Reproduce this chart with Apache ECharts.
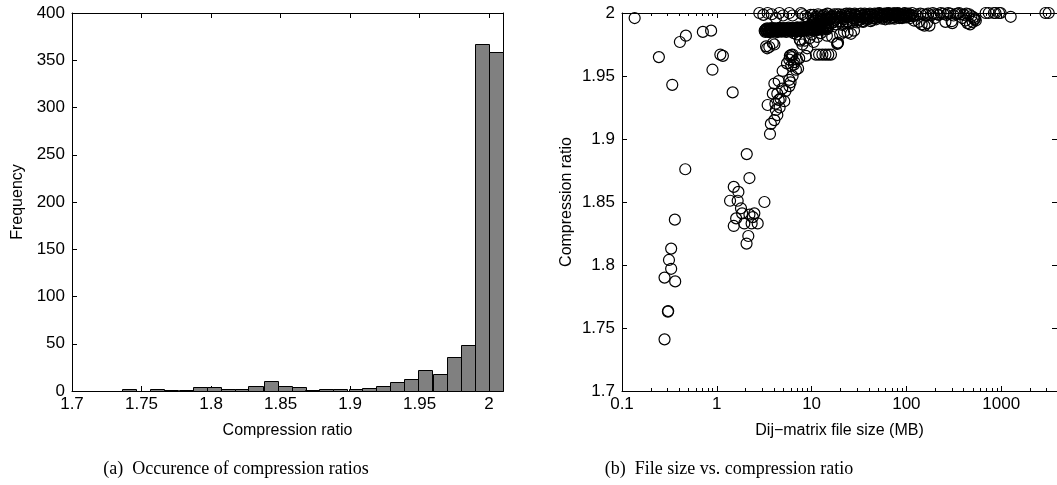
<!DOCTYPE html>
<html>
<head>
<meta charset="utf-8">
<script src="https://cdn.jsdelivr.net/npm/echarts@6/dist/echarts.min.js"></script>
<style>
  html, body { margin: 0; padding: 0; background: #fff; }
  #chart { width: 1057px; height: 485px; }
</style>
</head>
<body>
<div id="chart"></div>
<script>
// ---- (a) histogram of compression ratios ----
const binCenters = [1.741, 1.751, 1.761, 1.771, 1.782, 1.792, 1.802, 1.812, 1.822, 1.832,
                    1.843, 1.853, 1.863, 1.873, 1.883, 1.893, 1.904, 1.914, 1.924, 1.934,
                    1.944, 1.954, 1.965, 1.975, 1.985, 1.995, 2.005];
const binWidth = 0.01015;
const binCounts = [2, 0, 2, 1, 1, 4, 4, 2, 2, 5,
                   11, 5, 4, 1, 2, 2, 2, 3, 5, 10,
                   13, 22, 18, 36, 49, 367, 359];
const ratioTicks = [1.7, 1.75, 1.8, 1.85, 1.9, 1.95, 2];

// ---- (b) file size (MB) vs. compression ratio ----
const smallFiles = [
  [0.136, 1.996], [0.245, 1.965], [0.339, 1.943], [0.408, 1.977], [0.472, 1.982],
  [0.713, 1.985], [0.871, 1.986], [0.90, 1.955], [1.09, 1.967], [1.16, 1.966],
  [1.47, 1.937], [0.465, 1.876], [0.361, 1.836], [0.33, 1.813], [0.313, 1.804],
  [0.33, 1.797], [0.281, 1.790], [0.364, 1.787], [0.305, 1.763], [0.307, 1.7635],
  [0.281, 1.741]
];
const midFiles = [
  [2.07, 1.888], [2.21, 1.869], [1.51, 1.862], [1.69, 1.858], [1.38, 1.851],
  [1.66, 1.851], [3.18, 1.850], [1.80, 1.845], [1.60, 1.837], [1.51, 1.831],
  [1.95, 1.833], [2.21, 1.840], [2.49, 1.841], [2.33, 1.833], [2.70, 1.833],
  [2.15, 1.823], [2.06, 1.817], [1.85, 1.841], [2.40, 1.838]
];
const risingArm = [
  [3.64, 1.904], [3.72, 1.912], [3.44, 1.927], [4.05, 1.915], [4.35, 1.919],
  [4.20, 1.923], [4.50, 1.931], [5.15, 1.930], [3.90, 1.936], [4.05, 1.944],
  [4.50, 1.946], [4.90, 1.940], [5.82, 1.942], [5.82, 1.947], [4.95, 1.954],
  [6.30, 1.950], [6.84, 1.955], [5.82, 1.963], [6.30, 1.967], [7.00, 1.963],
  [5.50, 1.960], [6.50, 1.959], [7.40, 1.964], [6.10, 1.958], [4.35, 1.936],
  [4.70, 1.932], [3.58, 1.973], [4.05, 1.975], [3.40, 1.972], [5.30, 1.938],
  [6.00, 1.945], [6.60, 1.961], [6.20, 1.965], [5.90, 1.966], [7.20, 1.956],
  [4.15, 1.928], [4.60, 1.925], [3.31, 1.9735], [3.90, 1.976], [6.10, 1.9668]
];
const neckFiles = [
  [8.7, 1.966], [11.1, 1.967], [12.0, 1.967], [13.0, 1.967], [14.0, 1.967],
  [15.0, 1.967], [16.0, 1.967], [18.8, 1.976], [19.0, 1.9765], [18.6, 1.9755],
  [8.0, 1.975], [8.5, 1.978], [9.5, 1.980], [10.5, 1.977], [11.5, 1.981],
  [12.5, 1.984], [7.5, 1.979], [9.0, 1.972], [10.0, 1.983], [28, 1.986],
  [22, 1.985], [20, 1.983], [14.5, 1.982], [6.5, 1.984], [7.0, 1.983],
  [7.6, 1.978], [16.5, 1.981], [24, 1.9845], [26, 1.9835]
];
const lowerBand = [
  [3.20, 1.9860], [3.28, 1.9866], [3.36, 1.9857], [3.45, 1.9867], [3.53, 1.9861],
  [3.62, 1.9869], [3.71, 1.9858], [3.80, 1.9866], [3.90, 1.9863], [4.00, 1.9870],
  [4.10, 1.9859], [4.21, 1.9868], [4.32, 1.9862], [4.43, 1.9872], [4.55, 1.9860],
  [4.67, 1.9868], [4.80, 1.9865], [4.93, 1.9873], [5.06, 1.9861], [5.20, 1.9870],
  [5.34, 1.9864], [5.49, 1.9874], [5.64, 1.9862], [5.80, 1.9871], [5.96, 1.9866],
  [6.13, 1.9875], [6.30, 1.9863], [6.48, 1.9872], [6.66, 1.9868], [6.85, 1.9877],
  [7.05, 1.9865], [7.25, 1.9874], [7.46, 1.9870], [7.68, 1.9879], [7.90, 1.9867],
  [8.13, 1.9876], [8.37, 1.9872], [8.62, 1.9881], [8.88, 1.9869], [9.15, 1.9878],
  [9.43, 1.9874], [9.72, 1.9883], [10.0, 1.9871], [10.3, 1.9881], [10.6, 1.9876],
  [10.9, 1.9886], [11.3, 1.9875], [11.7, 1.9885], [12.1, 1.9880], [12.5, 1.9891],
  [12.9, 1.9879], [13.4, 1.9889], [13.9, 1.9884], [14.4, 1.9895], [15.0, 1.9886]
];
const lowerBandFill = [
  [3.25, 1.9850], [3.40, 1.9878], [3.58, 1.9848], [3.75, 1.9880], [3.95, 1.9851],
  [4.15, 1.9879], [4.37, 1.9849], [4.60, 1.9882], [4.85, 1.9852], [5.12, 1.9881],
  [5.40, 1.9850], [5.70, 1.9884], [6.02, 1.9853], [6.36, 1.9883], [6.72, 1.9855],
  [7.10, 1.9886], [7.50, 1.9856], [7.93, 1.9887], [8.38, 1.9858], [8.86, 1.9890],
  [9.36, 1.9860], [9.90, 1.9891], [10.45, 1.9862], [11.05, 1.9893], [11.7, 1.9865],
  [12.35, 1.9896], [13.05, 1.9868], [13.8, 1.9898], [14.6, 1.9872],
  [3.30, 1.9873], [3.50, 1.9853], [3.68, 1.9874], [3.87, 1.9855], [4.06, 1.9876],
  [4.26, 1.9854], [4.48, 1.9877], [4.72, 1.9856], [4.98, 1.9878], [5.26, 1.9857],
  [5.55, 1.9879], [5.85, 1.9858], [6.18, 1.9880], [6.54, 1.9859], [6.90, 1.9882],
  [7.30, 1.9861], [7.72, 1.9884], [8.15, 1.9863], [8.60, 1.9886], [9.10, 1.9865],
  [9.62, 1.9888], [10.15, 1.9867], [10.75, 1.9890], [11.35, 1.9870], [12.0, 1.9892],
  [12.7, 1.9873], [13.4, 1.9894], [14.2, 1.9876]
];
const upperBand = [
  [8.0, 1.9990], [8.6, 1.9975], [9.2, 1.9960], [9.8, 1.9985], [10.4, 1.9950],
  [11.0, 1.9970], [11.7, 1.9990], [12.4, 1.9955], [13.1, 1.9975], [13.9, 1.9940],
  [14.7, 1.9995], [15.6, 1.9960], [16.5, 1.9980], [17.5, 1.9945], [18.5, 1.9990],
  [19.6, 1.9965], [20.8, 1.9985], [22.0, 1.9950], [23.3, 1.9995], [24.7, 1.9970],
  [26.2, 1.9990], [27.7, 1.9955], [29.4, 1.9980], [31.1, 1.9965], [33.0, 1.9995],
  [35.0, 1.9975], [37.0, 1.9960], [39.2, 1.9990], [41.6, 1.9970], [44.0, 1.9985],
  [46.7, 1.9960], [49.5, 1.9995], [52.4, 1.9975], [55.5, 1.9965], [58.8, 1.9990],
  [62.3, 1.9970], [66.0, 1.9985], [70.0, 1.9960], [74.2, 1.9995], [78.6, 1.9975],
  [83.3, 1.9990], [88.3, 1.9965], [93.6, 1.9985], [99.2, 1.9975],
  [15, 1.990], [18, 1.991], [21, 1.9905], [25, 1.9915], [30, 1.9925],
  [35, 1.993], [42, 1.9935], [12, 1.9905], [14, 1.992], [17, 1.993],
  [20, 1.9935], [23, 1.992], [27, 1.994], [32, 1.9945], [38, 1.9945],
  [48, 1.995], [60, 1.995], [75, 1.9955], [90, 1.996], [100, 1.9965]
];
const upperBandFill = [
  [10.2, 1.9925], [10.8, 1.9935], [11.5, 1.9940], [12.2, 1.9930], [12.9, 1.9945],
  [13.6, 1.9935], [14.3, 1.9950], [15.2, 1.9945], [16.0, 1.9955], [16.9, 1.9925],
  [17.8, 1.9965], [18.9, 1.9935], [20.0, 1.9970], [21.3, 1.9915], [22.6, 1.9975],
  [24.0, 1.9935], [25.5, 1.9980], [27.0, 1.9925], [28.8, 1.9985], [30.5, 1.9945],
  [32.4, 1.9975], [34.4, 1.9935], [36.5, 1.9985], [38.8, 1.9955], [41.2, 1.9995],
  [43.7, 1.9945], [46.4, 1.9980], [49.2, 1.9965], [52.2, 1.9985], [55.4, 1.9955],
  [58.8, 1.9975], [62.4, 1.9995], [66.2, 1.9955], [70.3, 1.9980], [74.6, 1.9965],
  [79.2, 1.9985], [84.1, 1.9960], [89.2, 1.9980], [94.7, 1.9965], [100.5, 1.9990],
  [106, 1.9975], [112, 1.9985],
  [10.5, 1.9985], [11.2, 1.9960], [11.9, 1.9980], [12.7, 1.9965], [13.5, 1.9985],
  [14.4, 1.9965], [15.3, 1.9990], [16.3, 1.9970], [17.3, 1.9990], [18.4, 1.9955],
  [19.6, 1.9990], [20.9, 1.9960], [22.3, 1.9990], [23.7, 1.9965], [25.2, 1.9995],
  [26.8, 1.9960], [28.5, 1.9995], [30.3, 1.9970], [32.2, 1.9990], [34.2, 1.9960],
  [36.3, 1.9995], [38.6, 1.9970], [41.0, 1.9985], [43.5, 1.9960], [46.2, 1.9995],
  [49.0, 1.9970], [52.0, 1.9995], [55.2, 1.9980], [58.6, 1.9995], [62.2, 1.9985],
  [66.0, 1.9995], [70.0, 1.9985], [74.3, 1.9998], [78.8, 1.9980], [83.6, 1.9995],
  [88.7, 1.9985], [94.1, 1.9995]
];
const topRow = [
  [2.81, 2.0], [3.44, 2.0], [3.8, 1.999], [4.57, 2.0], [5.0, 1.998],
  [5.82, 2.0], [7.73, 2.0], [4.2, 1.996], [6.3, 1.998], [3.1, 1.9985]
];
const largeFiles = [
  [52, 2.0], [58, 1.999], [65, 2.0], [72, 1.9995], [80, 2.0],
  [88, 1.999], [96, 2.0], [105, 1.9995], [115, 2.0], [125, 1.999],
  [135, 1.993], [145, 1.991], [155, 1.990], [165, 1.992], [175, 1.990],
  [120, 1.994], [110, 1.996], [190, 2.0], [210, 1.999], [230, 2.0],
  [258, 1.993], [275, 2.0], [300, 1.9935], [305, 1.992], [330, 1.999],
  [360, 2.0], [390, 1.996], [420, 1.994], [440, 1.992], [470, 1.991],
  [500, 1.993], [520, 1.995], [540, 1.994], [460, 1.999], [686, 2.0],
  [740, 2.0], [838, 2.0], [870, 2.0], [950, 2.0], [986, 2.0],
  [1260, 1.997], [2930, 2.0], [3170, 2.0], [200, 1.996],
  [56, 1.9985], [62, 1.9995], [68, 1.998], [76, 1.9985], [84, 1.9995],
  [92, 1.998], [101, 1.999], [108, 1.9985], [118, 1.9975], [130, 1.998],
  [140, 1.9995], [150, 1.999], [160, 1.9985], [170, 1.9995], [182, 1.998],
  [195, 1.999], [220, 1.9985], [245, 1.9995], [265, 1.9985], [290, 1.9995],
  [315, 1.998], [345, 1.9995], [375, 1.999], [405, 1.9985], [430, 1.9995],
  [485, 1.9975], [510, 1.9965], [530, 1.9955]
];
const sizeTicks = [0.1, 1, 10, 100, 1000];
const sizeMinorTicks = [0.2, 0.3, 0.4, 0.5, 0.6, 0.7, 0.8, 0.9,
                        2, 3, 4, 5, 6, 7, 8, 9,
                        20, 30, 40, 50, 60, 70, 80, 90,
                        200, 300, 400, 500, 600, 700, 800, 900,
                        2000, 3000];

const scatterPoints = [].concat(smallFiles, midFiles, risingArm, neckFiles,
                                lowerBand, lowerBandFill, upperBand, upperBandFill,
                                topRow, largeFiles);

const FONT = '"Liberation Sans", Arial, Helvetica, sans-serif';
const SERIF = '"Liberation Serif", "DejaVu Serif", serif';
const black = '#000';

function fmtNum(v) { return String(+(+v).toPrecision(6)); }

function frameAxis(extra) {
  return Object.assign({
    axisLine: { show: true, onZero: false, lineStyle: { color: black, width: 1 } },
    axisTick: { show: true, inside: true, length: 5, lineStyle: { color: black } },
    axisLabel: { show: false },
    splitLine: { show: false }
  }, extra);
}

const labelStyle = { color: black, fontFamily: FONT, fontSize: 17 };
const nameStyle = { color: black, fontFamily: FONT, fontSize: 16 };

const chart = echarts.init(document.getElementById('chart'), null, { renderer: 'canvas' });

chart.setOption({
  animation: false,
  backgroundColor: '#fff',
  grid: [
    { left: 72, top: 13, width: 431, height: 378 },
    { left: 622, top: 13, width: 436, height: 378 }
  ],
  xAxis: [
    frameAxis({
      type: 'value', gridIndex: 0, position: 'bottom', min: 1.7, max: 2.01, interval: 0.05,
      axisLabel: Object.assign({ show: true, margin: 5, showMaxLabel: false,
        formatter: v => (ratioTicks.some(t => Math.abs(t - v) < 1e-9) ? fmtNum(v) : '') }, labelStyle),
      name: 'Compression ratio', nameLocation: 'middle', nameGap: 32, nameTextStyle: nameStyle
    }),
    frameAxis({ type: 'value', gridIndex: 0, position: 'top', min: 1.7, max: 2.01, interval: 0.05 }),
    frameAxis({
      type: 'log', logBase: 10, gridIndex: 1, position: 'bottom', min: 0.1, max: 3880,
      axisLabel: Object.assign({ show: true, margin: 5, showMaxLabel: false,
        formatter: v => (sizeTicks.some(t => Math.abs(t - v) / t < 1e-6) ? fmtNum(v) : '') }, labelStyle),
      name: 'Dij\u2212matrix file size (MB)', nameLocation: 'middle', nameGap: 32, nameTextStyle: nameStyle
    }),
    frameAxis({ type: 'log', logBase: 10, gridIndex: 1, position: 'top', min: 0.1, max: 3880 })
  ],
  yAxis: [
    frameAxis({
      type: 'value', gridIndex: 0, position: 'left', min: 0, max: 400, interval: 50,
      axisLabel: Object.assign({ show: true, margin: 7 }, labelStyle),
      name: 'Frequency', nameLocation: 'middle', nameGap: 46, nameTextStyle: nameStyle
    }),
    frameAxis({ type: 'value', gridIndex: 0, position: 'right', min: 0, max: 400, interval: 50 }),
    frameAxis({
      type: 'value', gridIndex: 1, position: 'left', min: 1.7, max: 2, interval: 0.05,
      axisLabel: Object.assign({ show: true, margin: 7, formatter: v => fmtNum(v) }, labelStyle),
      name: 'Compression ratio', nameLocation: 'middle', nameGap: 47, nameTextStyle: nameStyle
    }),
    frameAxis({ type: 'value', gridIndex: 1, position: 'right', min: 1.7, max: 2, interval: 0.05 })
  ],
  series: [
    {
      // histogram bars, one rectangle per bin
      type: 'custom',
      xAxisIndex: 0, yAxisIndex: 0,
      data: binCenters.map((c, i) => [c, binCounts[i]]),
      encode: { x: 0, y: 1 },
      renderItem: function (params, api) {
        const c = api.value(0), n = api.value(1);
        const p0 = api.coord([c - binWidth / 2, n]);
        const p1 = api.coord([c + binWidth / 2, 0]);
        const x0 = Math.round(p0[0]) + 0.5, x1 = Math.round(p1[0]) + 0.5;
        const y0 = Math.round(p0[1]) + 0.5, y1 = Math.round(p1[1]) + 0.5;
        return {
          type: 'rect',
          shape: { x: x0, y: y0, width: x1 - x0, height: y1 - y0 },
          style: { fill: '#808080', stroke: black, lineWidth: 1 }
        };
      },
      silent: true, z: 2
    },
    {
      // log-axis minor ticks (2..9 in each decade), bottom and top edges
      type: 'custom',
      xAxisIndex: 2, yAxisIndex: 2,
      data: sizeMinorTicks.map(v => [v]),
      encode: { x: 0 },
      clip: false,
      renderItem: function (params, api) {
        const v = api.value(0);
        const b = api.coord([v, 1.7]);
        const t = api.coord([v, 2.0]);
        const x = Math.round(b[0]) + 0.5;
        return {
          type: 'group',
          children: [
            { type: 'line', shape: { x1: x, y1: b[1], x2: x, y2: b[1] - 3 }, style: { stroke: black, lineWidth: 1 } },
            { type: 'line', shape: { x1: x, y1: t[1], x2: x, y2: t[1] + 3 }, style: { stroke: black, lineWidth: 1 } }
          ]
        };
      },
      silent: true, z: 3
    },
    {
      type: 'scatter',
      xAxisIndex: 2, yAxisIndex: 2,
      data: scatterPoints,
      symbol: 'circle',
      symbolSize: 11,
      itemStyle: { color: 'rgba(0,0,0,0)', borderColor: black, borderWidth: 1.2, opacity: 1 },
      silent: true, z: 4
    }
  ],
  graphic: [
    {
      type: 'text', x: 236, y: 469,
      style: { text: '(a)  Occurence of compression ratios', font: '18px ' + SERIF,
               fill: black, align: 'center', verticalAlign: 'middle' }
    },
    {
      type: 'text', x: 729, y: 469,
      style: { text: '(b)  File size vs. compression ratio', font: '18px ' + SERIF,
               fill: black, align: 'center', verticalAlign: 'middle' }
    }
  ]
});
</script>
</body>
</html>
